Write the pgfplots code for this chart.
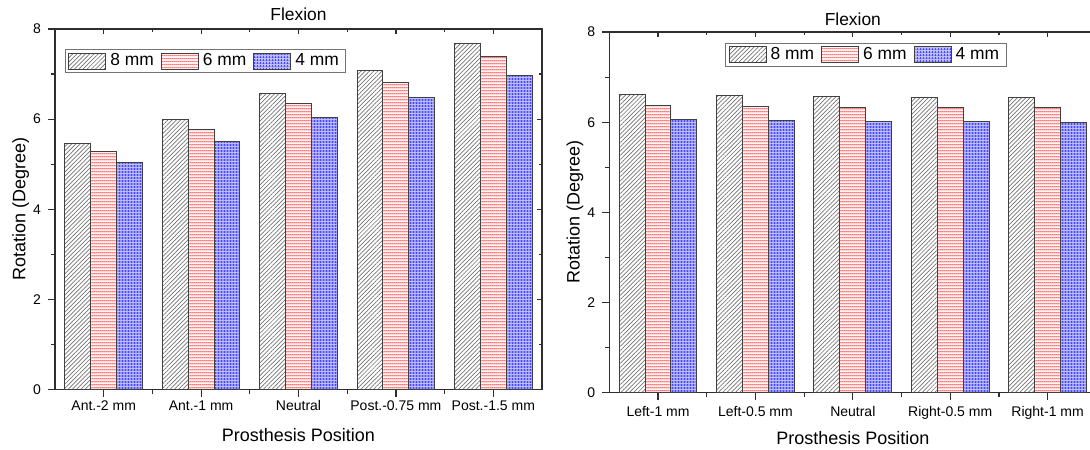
\documentclass[border=0pt]{standalone}
\usepackage{fontspec}
\setmainfont{Liberation Sans}
\usepackage{pgfplots}
\pgfplotsset{compat=1.18}
\usepackage{pgfplotstable}
\usetikzlibrary{patterns,patterns.meta}

\definecolor{spine}{HTML}{2E2E2E}
\newcommand\fs[1]{\fontsize{#1}{#1}\selectfont}

% coloured fills with their own background
\tikzdeclarepattern{name=redlines, type=colored,
  bottom left={(0pt,0pt)}, top right={(1pt,1.6pt)}, tile size={(1pt,1.6pt)},
  code={\fill[red!7] (0pt,0pt) rectangle (1pt,1.6pt);
        \fill[red!75] (0pt,0.6pt) rectangle (1pt,1.0pt);}}
\tikzdeclarepattern{name=bluedots, type=colored,
  bottom left={(0pt,0pt)}, top right={(1.3pt,1.3pt)}, tile size={(1.3pt,1.3pt)},
  code={\fill[blue!72] (0pt,0pt) rectangle (1.3pt,1.3pt);
        \fill[white] (0.25pt,0.25pt) rectangle (0.98pt,0.98pt);}}

% anterior/posterior shift
\pgfplotstableread{
x g8 g6 g4
0 5.47 5.28 5.04
1 5.99 5.77 5.51
2 6.57 6.34 6.04
3 7.09 6.82 6.47
4 7.68 7.38 6.97
}\apdata

% left/right shift
\pgfplotstableread{
x g8 g6 g4
0 6.61 6.37 6.06
1 6.59 6.35 6.04
2 6.57 6.33 6.02
3 6.56 6.33 6.01
4 6.54 6.32 6.00
}\mldata

\pgfplotsset{
  frame/.style={
    scale only axis, width=243.5pt, height=180.3pt,
    xmin=-0.5, xmax=4.5, ymin=0, ymax=8,
    xtick={0,...,4}, minor xtick={0.5,1.5,2.5,3.5},
    ytick={0,2,4,6,8}, minor ytick={1,3,5,7},
    /pgf/number format/assume math mode=true,
  },
  flexbar/.style={
    frame,
    ybar=0pt, bar width=0.266,
    xtick pos=bottom, ytick pos=left,
    tick align=outside,
    major tick length=3.5pt, minor tick length=2pt,
    axis line style={spine, line width=0.8pt},
    tick style={spine, line width=0.6pt},
    tick label style={font=\fs{7}},
    label style={font=\fs{9}},
    every axis title/.style={at={(0.5,1)}, anchor=base, font=\fs{8.7}},
    xlabel={Prosthesis Position},
    ylabel={Rotation (Degree)},
    xlabel style={at={(axis description cs:0.5,0)}, anchor=base, yshift=-25.7pt},
    title={Flexion},
    legend columns=3,
    legend image code/.code={\draw[##1] (0pt,-4pt) rectangle (18.5pt,4pt);},
  },
  mirror/.style={
    frame,
    xtick pos=top, ytick pos=right, tick align=inside,
    major tick length=2.5pt, minor tick length=1.5pt,
    tick style={spine, line width=0.6pt},
    xticklabels={}, yticklabels={},
    axis line style={draw=none},
  },
  leg/.style={legend style={at={#1}, anchor=north west, draw=black!55, line width=0.5pt,
    font=\fs{8.7}, inner xsep=1.5pt, inner ysep=0pt,
    /tikz/every even column/.append style={column sep=1.5pt}}},
  s8/.style={draw=black!75, line width=0.5pt,
    pattern={Lines[angle=45,distance=1.5pt,line width=0.35pt]}, pattern color=black!55},
  s6/.style={draw=black!75, line width=0.5pt, pattern=redlines},
  s4/.style={draw=black!75, line width=0.5pt, pattern=bluedots},
}

\begin{document}
\begin{tikzpicture}
\useasboundingbox (0,0) rectangle (545pt,224.5pt);
\clip (0,0) rectangle (545pt,224.5pt);

\begin{axis}[flexbar, at={(27.5pt,29.7pt)}, anchor=south west,
  xticklabels={Ant.-2 mm, Ant.-1 mm, Neutral, Post.-0.75 mm, Post.-1.5 mm},
  xticklabel style={yshift=1.5pt},
  title style={yshift=4.1pt},
  ylabel style={at={(axis description cs:-0.0606,0.5)}, anchor=base},
  leg={(0.0205,0.9437)}]
\addplot[s8] table[x=x, y=g8] {\apdata};
\addplot[s6] table[x=x, y=g6] {\apdata};
\addplot[s4] table[x=x, y=g4] {\apdata};
\legend{8 mm, 6 mm, 4 mm}
\end{axis}
\begin{axis}[mirror, at={(27.5pt,29.7pt)}, anchor=south west]
\end{axis}

\begin{axis}[flexbar, at={(304.65pt,28.15pt)}, anchor=south west,
  xticklabels={Left-1 mm, Left-0.5 mm, Neutral, Right-0.5 mm, Right-1 mm},
  title style={yshift=3.1pt},
  ylabel style={at={(axis description cs:-0.0612,0.5)}, anchor=base},
  leg={(0.2377,0.971)}]
\addplot[s8] table[x=x, y=g8] {\mldata};
\addplot[s6] table[x=x, y=g6] {\mldata};
\addplot[s4] table[x=x, y=g4] {\mldata};
\legend{8 mm, 6 mm, 4 mm}
\end{axis}
\begin{axis}[mirror, at={(304.65pt,28.15pt)}, anchor=south west]
\end{axis}
\end{tikzpicture}
\end{document}
